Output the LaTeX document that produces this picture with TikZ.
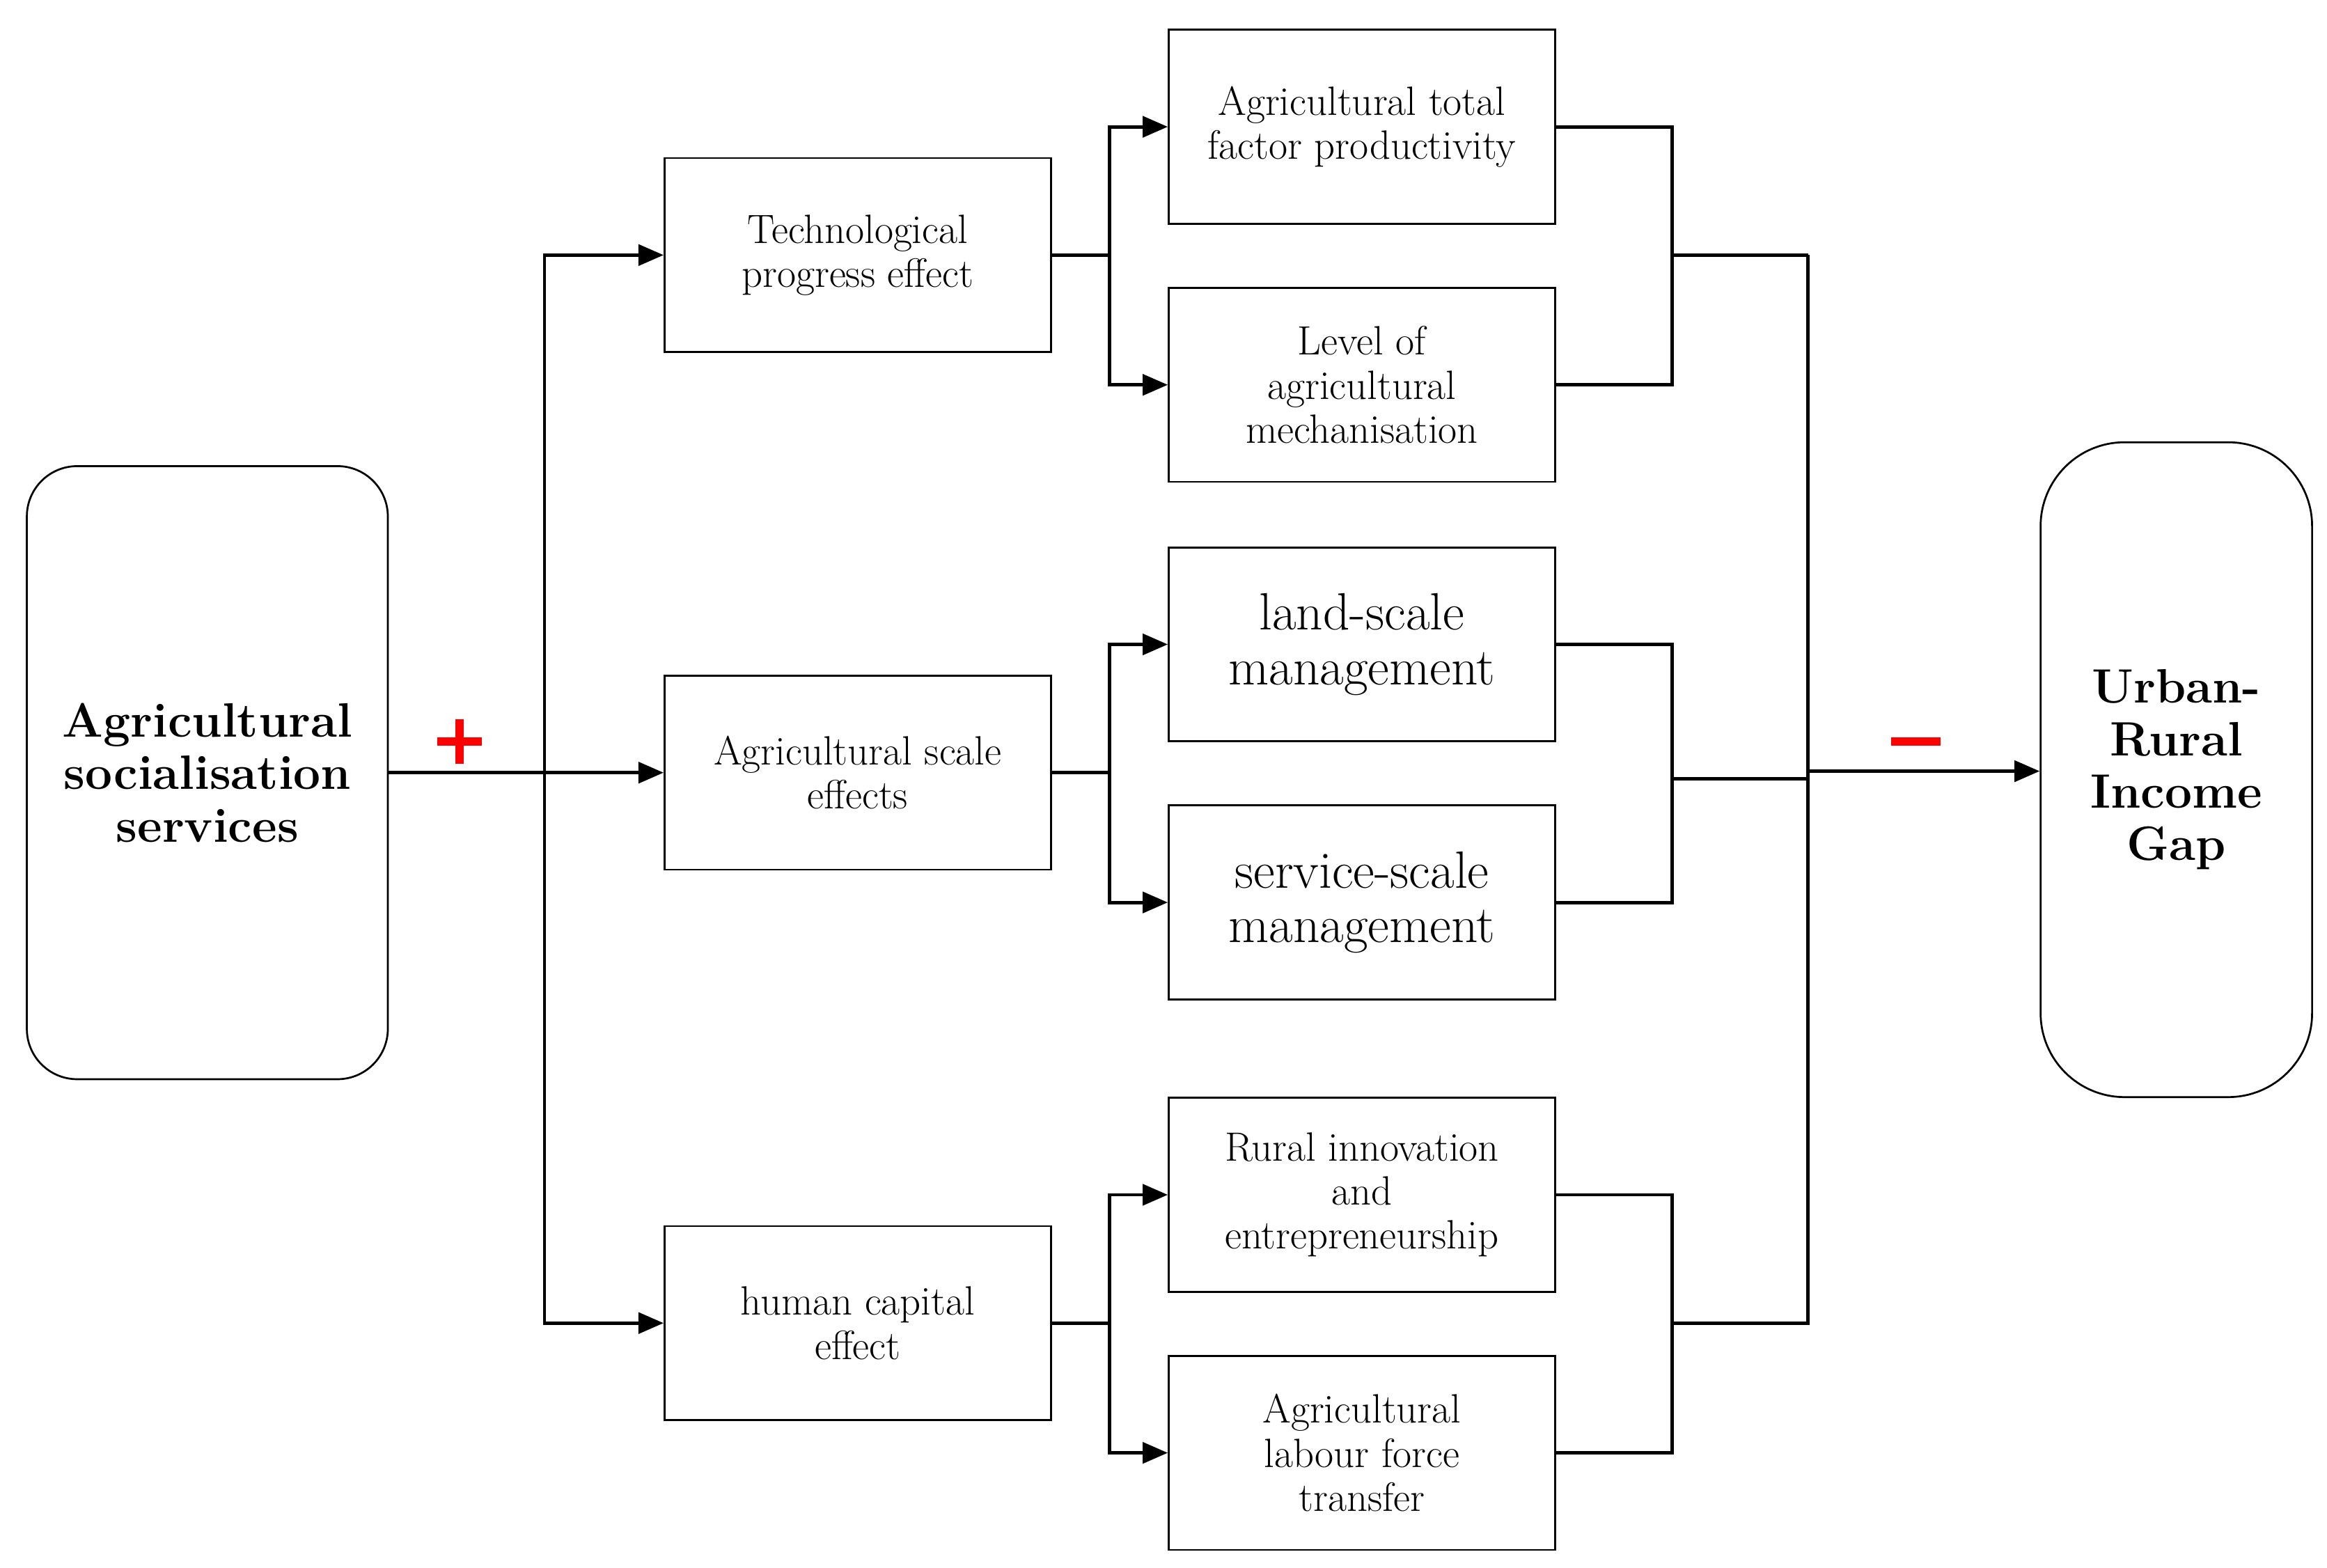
\documentclass[tikz,border=0pt]{standalone}
\usetikzlibrary{arrows.meta}
\begin{document}
\begin{tikzpicture}[x=0.025cm,y=-0.025cm,
 box/.style={draw,line width=0.9pt,minimum width=259*0.025cm,minimum height=130*0.025cm,align=center,font=\fontsize{19.5}{21}\selectfont},
 big/.style={font=\fontsize{25}{26}\selectfont},
 ln/.style={line width=1.6pt},
 ar/.style={ln,-{Triangle[length=12pt,width=10pt]}}]
\useasboundingbox (0,0) rectangle (1560,1051);
\node[draw,line width=0.9pt,rounded corners=24pt,minimum width=242*0.025cm,minimum height=411*0.025cm,align=center,font=\fontsize{23}{25}\selectfont\bfseries] (L) at (139,518) {Agricultural\\socialisation\\services};
\node[draw,line width=0.9pt,rounded corners=40pt,minimum width=182*0.025cm,minimum height=439*0.025cm,align=center,font=\fontsize{23}{25}\selectfont\bfseries] (R) at (1459,516) {Urban-\\Rural\\Income\\Gap};
\node[box] (m1) at (575,171) {Technological\\progress effect};
\node[box] (m2) at (575,518) {Agricultural scale\\effects};
\node[box] (m3) at (575,887) {human capital\\effect};
\node[box] (r1) at (913,85) {Agricultural total\\factor productivity};
\node[box] (r2) at (913,258) {Level of\\agricultural\\mechanisation};
\node[box,big] (r3) at (913,432) {land-scale\\management};
\node[box,big] (r4) at (913,605) {service-scale\\management};
\node[box] (r5) at (913,801) {Rural innovation\\and\\entrepreneurship};
\node[box] (r6) at (913,974) {Agricultural\\labour force\\transfer};
\coordinate (t) at (365,518);
\draw[ln] (L.east|-t) -- (t);
\draw[ar] (t) -- (m2.west);
\draw[ar] (365,518) |- (m1.west);
\draw[ar] (365,518) |- (m3.west);
\foreach \m/\a/\b/\ym in {m1/r1/r2/171,m2/r3/r4/518,m3/r5/r6/887}{
 \draw[ln] (\m.east) -- (744,\ym);
 \draw[ar] (744,\ym) |- (\a.west);
 \draw[ar] (744,\ym) |- (\b.west);
 \draw[ln] (\a.east) -| (1121,\ym) |- (\b.east);
}
\draw[ln] (1121,171) -- (1212,171);
\draw[ln] (1121,522) -- (1212,522);
\draw[ln] (1121,887) -- (1212,887) -- (1212,171);
\draw[ar] (1212,517) -- (R.west|-1212,517);
\draw[red,line width=4pt] (293,497) -- (323,497) (308,482) -- (308,512);
\draw[red,line width=4pt] (1268,497) -- (1301,497);
\end{tikzpicture}
\end{document}
